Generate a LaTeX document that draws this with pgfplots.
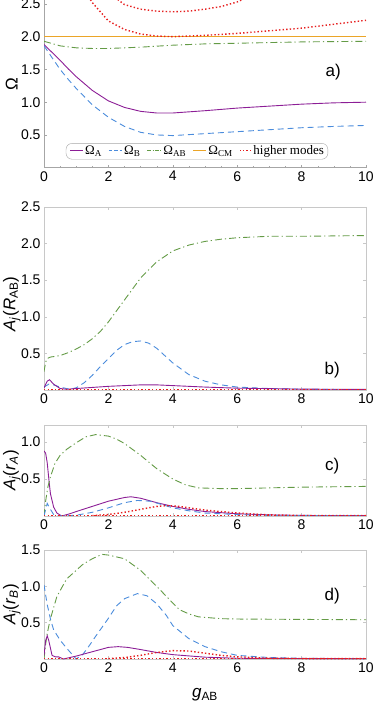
\documentclass[border=0pt]{standalone}
\usepackage{fontspec}
\setmainfont{Liberation Sans}
\newfontfamily\serif{Liberation Serif}
\usepackage{pgfplots}
\pgfplotsset{compat=1.18}

\definecolor{cA}{RGB}{140,30,150}
\definecolor{cB}{RGB}{75,140,220}
\definecolor{cAB}{RGB}{100,155,70}
\definecolor{cCM}{RGB}{235,165,40}
\definecolor{cHM}{RGB}{230,30,30}
\definecolor{frm}{RGB}{200,200,200}

\tikzset{
  sA/.style={draw=cA, line width=0.9pt},
  sB/.style={draw=cB, line width=0.9pt, dash pattern=on 6pt off 4pt},
  sAB/.style={draw=cAB, line width=0.9pt, dash pattern=on 7pt off 3pt on 1.2pt off 3pt},
  sCM/.style={draw=cCM, line width=0.9pt},
  sHM/.style={draw=cHM, line width=1.4pt, dash pattern=on 1.4pt off 2.2pt},
}
% legend samples built from coloured rules
\newcommand\seg[1]{\rule[0.3em]{#1}{0.9pt}}
\newcommand\dotseg{\rule[0.27em]{1.4pt}{1.4pt}}

\pgfplotsset{
  panel/.style={
    scale only axis, width=322pt, xmin=0, xmax=10, ymin=0,
    xtick={0,2,...,10}, clip=true,
    tick label style={font=\fontsize{14}{16}\selectfont},
    /pgf/number format/assume math mode=true,
    yticklabel style={/pgf/number format/.cd, fixed, fixed zerofill, precision=1},
    xticklabel style={/pgf/number format/.cd, fixed, precision=0},
    tick align=inside, major tick length=3pt, minor tick length=2pt,
    every tick/.style={gray!70},
    label style={font=\fontsize{17}{19}\selectfont},
    ylabel style={at={(axis description cs:-0.1,0.5)}, anchor=center},
  },
  framed/.style={panel, axis line style={frm}, every tick/.style={frm}},
}

\begin{document}
\begin{tikzpicture}
\useasboundingbox (0pt,0pt) rectangle (374pt,705pt);

% a) frequencies
\begin{axis}[panel, at={(44pt,537.3pt)}, anchor=south west, height=167.7pt,
  ymax=2.56, ytick={0.5,1,...,2.5},
  axis lines*=left, axis line style={gray!70}, minor x tick num=3,
  ylabel={Ω}]
\addplot[sA] coordinates {(0,1.88) (0.25,1.76) (0.5,1.64) (0.75,1.51) (1,1.39)
  (1.5,1.18) (2,1.02) (2.5,0.92) (3,0.86) (3.5,0.835) (4,0.835) (5,0.87)
  (6,0.91) (7,0.94) (8,0.97) (9,0.99) (10,1.0)};
\addplot[sB] coordinates {(0,1.86) (0.25,1.68) (0.5,1.5) (0.75,1.35) (1,1.21)
  (1.5,0.96) (2,0.77) (2.5,0.63) (3,0.54) (3.5,0.5) (4,0.49) (5,0.52)
  (6,0.55) (7,0.58) (8,0.61) (9,0.63) (10,0.645)};
\addplot[sAB] coordinates {(0,1.93) (0.5,1.86) (1,1.83) (1.5,1.82) (2,1.82)
  (3,1.84) (4,1.87) (5,1.89) (6,1.9) (8,1.92) (10,1.93)};
\addplot[sCM] coordinates {(0,2) (10,2)};
\addplot[sHM] coordinates {(1.2,2.75) (1.5,2.52) (2,2.24) (2.5,2.11) (3,2.04)
  (3.5,2.01) (4,2.0) (5,2.02) (6,2.05) (7,2.09) (8,2.13) (9,2.19) (10,2.25)};
\addplot[sHM] coordinates {(2.2,2.6) (2.5,2.49) (3,2.42) (3.5,2.39)
  (4,2.38) (4.5,2.39) (5,2.42) (5.5,2.46) (6,2.53) (6.3,2.6)};
\node[font=\fontsize{17}{19}\selectfont] at (axis cs:8.98,1.46) {a)};
% legend
\node[draw=gray!70, fill=white, rounded corners=6pt, inner xsep=4pt, inner ysep=2pt,
  font=\serif\fontsize{13}{14}\selectfont] at (axis cs:4.75,0.25) {%
  \textcolor{cA}{\seg{13pt}}\,Ω\textsubscript{A}\hspace{7pt}%
  \textcolor{cB}{\seg{3.5pt}\hspace{1.8pt}\seg{3.5pt}\hspace{1.8pt}\seg{2.4pt}}\,Ω\textsubscript{B}\hspace{7pt}%
  \textcolor{cAB}{\seg{4pt}\hspace{1.3pt}\seg{1pt}\hspace{1.3pt}\seg{4pt}\hspace{1.3pt}\seg{1pt}}\,Ω\textsubscript{AB}\hspace{7pt}%
  \textcolor{cCM}{\seg{13pt}}\,Ω\textsubscript{CM}\hspace{7pt}%
  \textcolor{cHM}{\dotseg\hspace{2pt}\dotseg\hspace{2pt}\dotseg\hspace{2pt}\dotseg}\,higher modes};
\end{axis}

% b) A_j(R_AB)
\begin{axis}[framed, at={(44pt,315pt)}, anchor=south west, height=183pt,
  ymax=2.5, ytick={0.5,1,...,2.5},
  ylabel style={at={(axis description cs:-0.1,0.47)}},
  ylabel={\textit{A}\textsubscript{\textit{j}}(\textit{R}\textsubscript{AB})}]
\addplot[sAB] coordinates {(0,0.25) (0.05,0.38) (0.1,0.43) (0.2,0.45) (0.5,0.47)
  (0.75,0.51) (1,0.56) (1.25,0.62) (1.5,0.7) (1.75,0.8) (2,0.93) (2.5,1.23)
  (3,1.53) (3.5,1.75) (4,1.9) (4.5,1.98) (5,2.03) (5.5,2.06) (6,2.08) (7,2.1)
  (8,2.1) (10,2.11)};
\addplot[sB] coordinates {(0,0.04) (0.15,0.08) (0.3,0.07) (0.5,0.04) (0.8,0.01)
  (1,0.03) (1.25,0.1) (1.5,0.2) (1.75,0.32) (2,0.43) (2.25,0.54) (2.5,0.62)
  (2.75,0.66) (3,0.67) (3.25,0.64) (3.5,0.57) (3.75,0.47) (4,0.37) (4.5,0.21)
  (5,0.12) (5.5,0.07) (6,0.04) (7,0.02) (8,0.01) (10,0.005)};
\addplot[sA] coordinates {(0,0.03) (0.1,0.12) (0.17,0.14) (0.3,0.08) (0.5,0.02)
  (0.7,0.01) (1,0.02) (2,0.05) (3,0.07) (3.5,0.07) (4,0.06) (5,0.04)
  (6,0.025) (8,0.012) (10,0.008)};
\addplot[sHM] coordinates {(0,0.006) (10,0.006)};
\node[font=\fontsize{17}{19}\selectfont] at (axis cs:8.95,0.27) {b)};
\end{axis}

% c) A_j(r_A)
\begin{axis}[framed, at={(44pt,189pt)}, anchor=south west, height=91pt,
  ymax=1.23, ytick={0.5,1},
  ylabel={\textit{A}\textsubscript{\textit{j}}(\textit{r}\textsubscript{\textit{A}})}]
\addplot[sA] coordinates {(0,0.88) (0.05,0.85) (0.1,0.72) (0.15,0.5) (0.2,0.3)
  (0.3,0.12) (0.4,0.04) (0.55,0.0) (0.8,0.03) (1,0.06) (1.5,0.13) (2,0.2)
  (2.5,0.25) (2.7,0.26) (3,0.24) (3.5,0.18) (4,0.13) (4.5,0.09) (5,0.06)
  (6,0.03) (7,0.015) (8,0.008) (10,0.004)};
\addplot[sAB] coordinates {(0,0.0) (0.05,0.2) (0.12,0.39) (0.2,0.53) (0.34,0.71)
  (0.5,0.82) (0.7,0.9) (1,0.99) (1.3,1.07) (1.6,1.1) (2,1.08) (2.25,1.04)
  (2.5,0.98) (3,0.82) (3.5,0.64) (4,0.5) (4.4,0.42) (4.8,0.38) (5.5,0.37)
  (6,0.37) (7,0.38) (8,0.39) (10,0.4)};
\addplot[sB] coordinates {(0,0.0) (0.1,0.17) (0.2,0.09) (0.3,0.02) (0.5,0.0)
  (1,0.01) (1.5,0.05) (2,0.11) (2.5,0.18) (2.9,0.21) (3.3,0.2) (3.7,0.15)
  (4,0.11) (4.5,0.07) (5,0.04) (6,0.02) (7,0.008) (10,0.002)};
\addplot[sHM] coordinates {(0,0.006) (10,0.006)};
\addplot[sHM] coordinates {(1.5,0.006) (2,0.02) (2.5,0.05) (3,0.09) (3.5,0.13)
  (3.8,0.14) (4.2,0.13) (4.5,0.11) (5,0.08) (5.5,0.06) (6,0.04) (7,0.015)
  (8,0.006) (10,0.006)};
\node[font=\fontsize{17}{19}\selectfont] at (axis cs:8.95,0.68) {c)};
\end{axis}

% d) A_j(r_B)
\begin{axis}[framed, at={(44pt,46pt)}, anchor=south west, height=109pt,
  ymax=1.5, ytick={0.5,1,1.5},
  ylabel={\textit{A}\textsubscript{\textit{j}}(\textit{r}\textsubscript{\textit{B}})},
  xlabel style={at={(axis description cs:0.5,-0.33)}, anchor=center},
  xlabel={\textit{g}\textsubscript{AB}}]
\addplot[sAB] coordinates {(0,0.0) (0.05,0.2) (0.1,0.35) (0.19,0.54) (0.4,0.86)
  (0.7,1.1) (1.2,1.3) (1.5,1.38) (1.8,1.44) (2,1.43) (2.5,1.38) (3,1.22)
  (3.5,1.0) (4,0.77) (4.2,0.68) (4.5,0.62) (4.8,0.58) (5.5,0.555) (6,0.55)
  (8,0.545) (10,0.54)};
\addplot[sB] coordinates {(0,1.02) (0.1,0.75) (0.2,0.55) (0.3,0.4) (0.5,0.26)
  (0.7,0.15) (0.9,0.05) (1,0.0) (1.2,0.06) (1.4,0.18) (1.6,0.31) (2,0.56)
  (2.25,0.73) (2.5,0.83) (2.9,0.9) (3.2,0.87) (3.5,0.76) (3.8,0.6) (4,0.46)
  (4.5,0.28) (5,0.17) (5.5,0.1) (6,0.05) (7,0.02) (8,0.01) (10,0.003)};
\addplot[sA] coordinates {(0,0.05) (0.05,0.25) (0.1,0.32) (0.15,0.25) (0.25,0.05)
  (0.35,0.03) (0.45,0.03) (0.6,0.0) (1,0.04) (1.5,0.1) (2,0.16) (2.3,0.17)
  (2.6,0.16) (3,0.13) (3.5,0.09) (4,0.06) (5,0.025) (6,0.01) (10,0.003)};
\addplot[sHM] coordinates {(0,0.006) (10,0.006)};
\addplot[sHM] coordinates {(2,0.006) (2.5,0.02) (3,0.05) (3.5,0.09) (4,0.115)
  (4.5,0.11) (5,0.08) (5.5,0.05) (6,0.03) (7,0.01) (8,0.006) (10,0.006)};
\node[font=\fontsize{17}{19}\selectfont] at (axis cs:8.95,0.87) {d)};
\end{axis}
\end{tikzpicture}
\end{document}
